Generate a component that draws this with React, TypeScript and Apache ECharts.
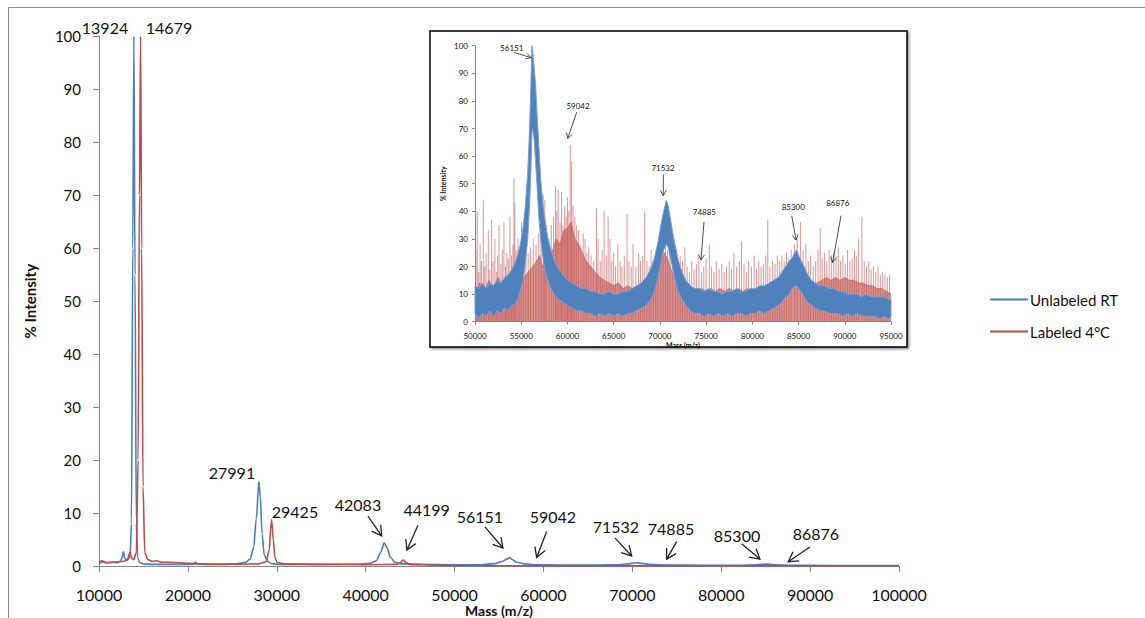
import React, { useEffect, useRef } from "react";
import * as echarts from "echarts";

// ---------- Main chart data ----------
const seriesNames = ["Unlabeled RT", "Labeled 4°C"];

const unlabeledMain: [number, number][] = [
  [10000, 0.5], [10500, 0.8], [11000, 0.6], [11500, 0.7], [12000, 0.6], [12400, 0.9], [12600, 1.6],
  [12750, 2.7], [12900, 1.4], [13100, 1.1], [13300, 1.3], [13500, 2], [13650, 8], [13800, 60],
  [13924, 100], [14050, 55], [14200, 8], [14350, 1.5], [14600, 0.6], [15000, 0.4], [16000, 0.3],
  [17000, 0.3], [18000, 0.3], [19000, 0.3], [20000, 0.3], [20600, 0.4], [20850, 0.7], [21100, 0.4],
  [22000, 0.3], [24000, 0.3], [25500, 0.4], [26500, 0.7], [27000, 1.3], [27400, 3.5], [27700, 9],
  [27991, 16], [28150, 13], [28350, 6], [28600, 2], [29000, 0.8], [29500, 0.4], [30500, 0.3],
  [33000, 0.3], [36000, 0.3], [39000, 0.35], [40500, 0.5], [41200, 1.0], [41700, 2.6], [42083, 4.4],
  [42400, 3.5], [42800, 1.6], [43300, 0.7], [44000, 0.4], [46000, 0.3], [50000, 0.25], [53000, 0.25],
  [54500, 0.45], [55300, 0.8], [55900, 1.3], [56200, 1.6], [56500, 1.2], [57000, 0.7], [57800, 0.4],
  [59000, 0.25], [62000, 0.2], [66000, 0.2], [68500, 0.25], [69500, 0.4], [70400, 0.6], [71000, 0.5],
  [72000, 0.3], [74000, 0.2], [78000, 0.15], [82000, 0.15], [84000, 0.25], [85000, 0.35], [86000, 0.25],
  [88000, 0.15], [92000, 0.1], [96000, 0.1], [100000, 0.1],
];

const labeledMain: [number, number][] = [
  [10000, 0.7], [10300, 1.0], [10800, 0.6], [11500, 0.7], [12200, 0.8], [12800, 0.9], [13200, 1.2],
  [13400, 2.2], [13500, 2.7], [13650, 1.5], [13900, 1.2], [14200, 2.5], [14400, 20], [14550, 70],
  [14679, 100], [14800, 60], [14950, 15], [15150, 2.5], [15500, 1.2], [16000, 0.9], [16500, 1.0],
  [17000, 0.7], [18000, 0.7], [19000, 0.6], [20000, 0.5], [21000, 0.4], [23000, 0.35], [26000, 0.35],
  [28000, 0.4], [28800, 0.8], [29150, 3], [29300, 7], [29425, 8.7], [29600, 5], [29800, 1.5],
  [30100, 0.6], [31000, 0.4], [35000, 0.3], [40000, 0.25], [43500, 0.3], [43900, 0.6], [44199, 1.1],
  [44500, 0.7], [45000, 0.3], [48000, 0.15], [52000, 0.05], [60000, 0.03], [70000, 0.03], [80000, 0.03],
  [90000, 0.03], [100000, 0.03],
];

// Main annotations: [label, textX, textY, arrowTailX, arrowTailY, arrowTipX, arrowTipY] (data coords; null = no arrow)
const mainPeakLabels: [string, number, number, number | null, number | null, number | null, number | null][] = [
  ["13924", 10675, 101.7, null, null, null, null],
  ["14679", 17874, 101.7, null, null, null, null],
  ["27991", 24961, 17.7, null, null, null, null],
  ["29425", 32047, 10.2, null, null, null, null],
  ["42083", 39134, 11.7, 40259, 9.4, 41800, 5.7],
  ["44199", 46862, 10.6, 45883, 7.7, 44646, 3.0],
  ["56151", 52857, 9.3, 53420, 7.4, 55444, 3.4],
  ["59042", 61069, 9.3, 60360, 6.5, 59235, 1.6],
  ["71532", 68155, 7.4, 68043, 5.3, 69921, 1.9],
  ["74885", 74352, 7.0, 74983, 4.6, 73858, 1.3],
  ["85300", 81777, 5.8, 82295, 4.2, 84353, 1.3],
  ["86876", 90652, 6.2, 89977, 3.6, 87536, 0.8],
];

// ---------- Inset data (50000–95000) ----------
// [mass, lower edge, upper edge] of the noisy blue trace
const insetUnlabeledBand: [number, number, number][] = [
  [50000, 3, 13], [50400, 1, 12], [50800, 3, 14], [51200, 2, 12], [51600, 4, 14], [52000, 2, 13],
  [52400, 4, 15], [52800, 3, 14], [53200, 5, 16], [53600, 4, 17], [54000, 6, 19], [54300, 6, 21],
  [54600, 8, 24], [54900, 11, 28], [55200, 15, 34], [55450, 21, 42], [55700, 30, 54], [55900, 42, 70],
  [56050, 55, 86], [56150, 68, 100], [56250, 70, 98], [56400, 66, 92], [56550, 58, 86], [56700, 50, 76],
  [56900, 38, 64], [57100, 30, 52], [57350, 23, 42], [57600, 18, 36], [57900, 15, 30], [58200, 12, 26],
  [58600, 10, 22], [59000, 8, 19], [59500, 7, 17], [60000, 6, 15], [60500, 5, 14], [61000, 4, 13],
  [61500, 4, 12], [62000, 3, 12], [62500, 3, 11], [63000, 2, 11], [63500, 3, 10], [64000, 2, 10],
  [64500, 3, 11], [65000, 2, 10], [65500, 3, 10], [66000, 2, 11], [66500, 3, 11], [67000, 3, 12],
  [67500, 4, 13], [68000, 5, 14], [68500, 6, 16], [69000, 8, 19], [69400, 11, 23], [69800, 16, 29],
  [70100, 21, 35], [70400, 26, 40], [70700, 28, 44], [70900, 27, 42], [71100, 24, 38], [71400, 19, 32],
  [71700, 14, 27], [72000, 11, 22], [72400, 8, 18], [72800, 6, 15], [73300, 4, 13], [73800, 3, 12],
  [74300, 3, 12], [74800, 2, 11], [75300, 3, 12], [75800, 2, 11], [76300, 3, 11], [76800, 2, 10],
  [77300, 3, 11], [77800, 2, 11], [78300, 3, 12], [78800, 3, 11], [79300, 2, 11], [79800, 3, 12],
  [80300, 3, 12], [80800, 4, 13], [81300, 3, 13], [81800, 4, 14], [82300, 5, 15], [82800, 6, 16],
  [83200, 7, 18], [83600, 9, 20], [84000, 10, 22], [84300, 12, 23], [84600, 13, 25], [84800, 13, 26],
  [85000, 12, 24], [85300, 11, 22], [85600, 9, 20], [86000, 7, 17], [86400, 6, 15], [86800, 5, 14],
  [87300, 4, 13], [87800, 4, 13], [88300, 3, 12], [88800, 3, 12], [89300, 3, 11], [89800, 2, 11],
  [90300, 3, 10], [90800, 2, 10], [91300, 3, 10], [91800, 2, 9], [92300, 2, 10], [92800, 2, 9],
  [93300, 2, 9], [93800, 1, 9], [94300, 2, 9], [94800, 1, 8], [95000, 2, 8],
];

// dense red core of the labeled trace: [mass, top]
const insetLabeledCore: [number, number][] = [
  [50000, 10], [50500, 14], [51000, 11], [51500, 15], [52000, 12], [52500, 16], [53000, 13], [53500, 17],
  [54000, 14], [54500, 18], [55000, 15], [55500, 17], [56000, 19], [56500, 21], [57000, 24], [57300, 20],
  [57700, 22], [58000, 20], [58400, 26], [58800, 30], [59200, 28], [59600, 33], [60000, 34], [60400, 36],
  [60800, 30], [61200, 28], [61600, 25], [62000, 22], [62500, 20], [63000, 18], [63500, 16], [64000, 15],
  [64500, 14], [65000, 13], [65500, 14], [66000, 12], [66500, 13], [67000, 12], [67500, 13], [68000, 14],
  [68500, 13], [69000, 15], [69500, 17], [70000, 20], [70500, 25], [70800, 23], [71200, 19], [71600, 15],
  [72000, 13], [72500, 12], [73000, 13], [73500, 12], [74000, 11], [74500, 12], [75000, 11], [75500, 12],
  [76000, 11], [76500, 12], [77000, 11], [77500, 12], [78000, 11], [78500, 12], [79000, 11], [79500, 12],
  [80000, 11], [80500, 12], [81000, 12], [81500, 13], [82000, 12], [82500, 13], [83000, 14], [83500, 15],
  [84000, 16], [84500, 18], [85000, 20], [85500, 17], [86000, 15], [86500, 14], [87000, 14], [87500, 15],
  [88000, 16], [88500, 15], [89000, 16], [89500, 15], [90000, 16], [90500, 15], [91000, 15], [91500, 14],
  [92000, 14], [92500, 13], [93000, 13], [93500, 12], [94000, 12], [94500, 11], [95000, 10],
];

// individual tall red spikes: [mass, height]
const insetLabeledSpikes: [number, number][] = [
  [50100, 26], [50250, 40], [50400, 18], [50550, 28], [50700, 22], [50900, 44], [51050, 20], [51200, 25],
  [51440, 33], [51600, 19], [51800, 37], [51950, 22], [52150, 30], [52300, 18], [52450, 24], [52600, 35],
  [52800, 21], [52950, 26], [53130, 36], [53300, 20], [53450, 25], [53600, 23], [53780, 38], [53950, 24],
  [54100, 28], [54210, 52], [54300, 43], [54450, 26], [54650, 30], [54850, 24], [55040, 36], [55250, 30],
  [55500, 28], [55750, 25], [56000, 27], [56300, 30], [56600, 28], [56900, 32], [57150, 36], [57380, 46],
  [57550, 44], [57700, 35], [58000, 30], [58250, 35], [58500, 38], [58710, 49], [58850, 40], [59000, 48],
  [59200, 36], [59360, 47], [59500, 35], [59700, 42], [59850, 38], [60000, 45], [60150, 40], [60300, 64],
  [60450, 58], [60600, 42], [60800, 38], [61000, 35], [61200, 33], [61450, 28], [61700, 32], [61900, 30],
  [62100, 25], [62300, 27], [62550, 24], [62800, 22], [63140, 41], [63300, 30], [63550, 22], [63750, 26],
  [63970, 40], [64200, 24], [64400, 38], [64600, 30], [64800, 22], [65000, 25], [65200, 20], [65450, 28],
  [65700, 22], [65900, 20], [66150, 24], [66450, 39], [66650, 22], [66900, 20], [67100, 28], [67400, 20],
  [67700, 25], [67900, 22], [68150, 24], [68360, 40], [68600, 22], [68850, 20], [69050, 26], [69300, 22],
  [69550, 25], [69800, 28], [70100, 30], [70350, 27], [70600, 31], [70850, 26], [71100, 28], [71400, 24],
  [71700, 22], [71950, 20], [72200, 24], [72450, 22], [72700, 27], [72950, 20], [73200, 18], [73450, 22],
  [73700, 19], [73950, 21], [74220, 24], [74500, 18], [74750, 20], [75000, 23], [75350, 28], [75600, 20],
  [75850, 18], [76100, 22], [76400, 19], [76700, 21], [76950, 18], [77200, 20], [77500, 22], [77750, 19],
  [78000, 25], [78300, 20], [78600, 22], [78830, 29], [79100, 21], [79350, 18], [79600, 22], [79900, 20],
  [80200, 24], [80450, 19], [80700, 22], [80950, 20], [81200, 21], [81450, 24], [81670, 37], [81900, 20],
  [82200, 22], [82450, 21], [82700, 24], [82950, 22], [83200, 24], [83450, 22], [83700, 25], [83950, 23],
  [84200, 26], [84570, 28], [84850, 30], [85200, 36], [85500, 26], [85800, 28], [86050, 22], [86300, 24],
  [86600, 20], [86850, 22], [87100, 26], [87340, 34], [87550, 23], [87800, 25], [88050, 22], [88300, 26],
  [88550, 24], [88800, 25], [89050, 24], [89300, 27], [89550, 22], [89800, 24], [90050, 21], [90300, 26],
  [90550, 22], [90800, 23], [91050, 26], [91250, 24], [91490, 30], [91850, 38], [92100, 22], [92350, 20],
  [92600, 22], [92850, 19], [93100, 20], [93350, 18], [93600, 20], [93850, 17], [94100, 18], [94350, 17],
  [94600, 16], [94850, 17],
];

// Inset annotations: [label, textX, textY, tailX, tailY, tipX, tipY]
const insetPeakLabels: [string, number, number, number, number, number, number][] = [
  ["56151", 53970, 99.2, 54250, 97.5, 56060, 95.7],
  ["59042", 61142, 78.2, 61000, 75.9, 60030, 66.4],
  ["71532", 70340, 55.7, 70370, 53.4, 70370, 45.7],
  ["74885", 74810, 39.6, 74770, 36.2, 74450, 22.4],
  ["85300", 84430, 41.7, 84260, 38.4, 84730, 29.6],
  ["86876", 89240, 42.9, 89590, 38.4, 88690, 21.5],
];

const BLUE = "#4a7ebb";
const RED = "#be4b48";
const FONT = "Lato, 'Open Sans', sans-serif";

function arrow(tail: number[], tip: number[], head: number, width: number, color: string) {
  const dx = tip[0] - tail[0];
  const dy = tip[1] - tail[1];
  const len = Math.sqrt(dx * dx + dy * dy) || 1;
  const ux = dx / len, uy = dy / len;
  const ang = Math.PI / 6;
  const cos = Math.cos(ang), sin = Math.sin(ang);
  const a = [tip[0] - head * (ux * cos - uy * sin), tip[1] - head * (uy * cos + ux * sin)];
  const b = [tip[0] - head * (ux * cos + uy * sin), tip[1] - head * (uy * cos - ux * sin)];
  return [
    { type: "polyline", z: 20, shape: { points: [tail, tip] }, style: { stroke: color, lineWidth: width, fill: null } },
    { type: "polyline", z: 20, shape: { points: [a, tip, b] }, style: { stroke: color, lineWidth: width, fill: null } },
  ];
}

const plain = (v: number) => String(v);

export default function App() {
  const ref = useRef<HTMLDivElement>(null);

  useEffect(() => {
    if (!ref.current) return;
    const chart = echarts.init(ref.current, undefined, { renderer: "svg" });

    const axisCommon = {
      axisLine: { show: true, lineStyle: { color: "#868686", width: 1 } },
      splitLine: { show: false },
    };

    chart.setOption({
      animation: false,
      backgroundColor: "#ffffff",
      textStyle: { fontFamily: FONT },
      legend: {
        data: seriesNames,
        orient: "vertical",
        left: 985,
        top: 287,
        icon: "rect",
        itemWidth: 38,
        itemHeight: 2,
        itemGap: 17,
        selectedMode: false,
        textStyle: { fontSize: 15, color: "#111", fontFamily: FONT, padding: [0, 0, 0, -3] },
      },
      grid: [
        { left: 99, right: 246, top: 36.4, bottom: 52, containLabel: false, outerBoundsMode: "none" },
        { left: 475, right: 254, top: 45.7, bottom: 296.3, containLabel: false, outerBoundsMode: "none" },
      ],
      xAxis: [
        {
          ...axisCommon, type: "value", gridIndex: 0, min: 10000, max: 100000, interval: 10000,
          axisTick: { show: true, inside: false, length: 6, lineStyle: { color: "#868686" } },
          axisLabel: { fontSize: 16, lineHeight: 16, color: "#111", margin: 20, fontFamily: FONT, formatter: plain },
          name: "Mass (m/z)", nameLocation: "middle", nameGap: 44, nameMoveOverlap: false,
          nameTextStyle: { fontWeight: "bold", fontSize: 14, color: "#111", fontFamily: FONT, verticalAlign: "middle", lineHeight: 14 },
        },
        {
          ...axisCommon, type: "value", gridIndex: 1, min: 50000, max: 95000, interval: 5000, z: 10,
          axisTick: { show: true, inside: false, length: 3, lineStyle: { color: "#868686" } },
          axisLabel: { fontSize: 8, color: "#111", margin: 10, fontFamily: FONT, formatter: plain },
          name: "Mass (m/z)", nameLocation: "middle", nameGap: 20, nameMoveOverlap: false,
          nameTextStyle: { fontWeight: "bold", fontSize: 7, color: "#111", fontFamily: FONT },
        },
      ],
      yAxis: [
        {
          ...axisCommon, type: "value", gridIndex: 0, min: 0, max: 100, interval: 10,
          axisTick: { show: true, inside: false, length: 6, lineStyle: { color: "#868686" } },
          axisLabel: { fontSize: 15, color: "#111", margin: 18, fontFamily: FONT },
          name: "% Intensity", nameLocation: "middle", nameGap: 62, nameMoveOverlap: false,
          nameTextStyle: { fontWeight: "bold", fontSize: 15, color: "#111", fontFamily: FONT },
        },
        {
          ...axisCommon, type: "value", gridIndex: 1, min: 0, max: 100, interval: 10, z: 10,
          axisTick: { show: true, inside: false, length: 3, lineStyle: { color: "#868686" } },
          axisLabel: { fontSize: 8, color: "#111", margin: 7, fontFamily: FONT },
          name: "% Intensity", nameLocation: "middle", nameGap: 29, nameMoveOverlap: false,
          nameTextStyle: { fontWeight: "bold", fontSize: 7, color: "#111", fontFamily: FONT },
        },
      ],
      series: [
        {
          name: seriesNames[0], type: "line", xAxisIndex: 0, yAxisIndex: 0, data: unlabeledMain,
          symbol: "none", smooth: 0.3, smoothMonotone: "x", z: 3,
          lineStyle: { color: BLUE, width: 1.6 }, itemStyle: { color: BLUE },
        },
        {
          name: seriesNames[1], type: "line", xAxisIndex: 0, yAxisIndex: 0, data: labeledMain,
          symbol: "none", smooth: 0.3, smoothMonotone: "x", z: 4,
          lineStyle: { color: RED, width: 1.6 }, itemStyle: { color: RED },
        },
        {
          name: seriesNames[1], type: "bar", xAxisIndex: 1, yAxisIndex: 1, data: insetLabeledSpikes,
          barWidth: 1, z: 5, itemStyle: { color: "rgba(192,80,77,0.6)" },
        },
        {
          name: seriesNames[1], type: "line", xAxisIndex: 1, yAxisIndex: 1, data: insetLabeledCore,
          symbol: "none", z: 6, lineStyle: { color: "rgba(190,75,72,0.7)", width: 0.8 },
          areaStyle: { color: "#c0504d", opacity: 0.62 }, itemStyle: { color: RED },
        },
        {
          name: seriesNames[0], type: "custom", xAxisIndex: 1, yAxisIndex: 1, z: 7,
          data: insetUnlabeledBand,
          encode: { x: 0, y: [1, 2] },
          itemStyle: { color: BLUE },
          renderItem: (params: any, api: any) => {
            if (params.dataIndex !== 0) return null;
            const upper = insetUnlabeledBand.map((d) => api.coord([d[0], d[2]]));
            const lower = insetUnlabeledBand.map((d) => api.coord([d[0], d[1]])).reverse();
            return {
              type: "polygon",
              shape: { points: upper.concat(lower) },
              style: { fill: "#4f81bd", stroke: "#7aa0d2", lineWidth: 1 },
            };
          },
        },
      ],
    });

    const graphics: any[] = [];
    graphics.push({ type: "line", z: 0, shape: { x1: 8.5, y1: 7.5, x2: 1145, y2: 7.5 }, style: { stroke: "#8c8c8c", lineWidth: 1 } });
    graphics.push({ type: "line", z: 0, shape: { x1: 8.5, y1: 7.5, x2: 8.5, y2: 618 }, style: { stroke: "#8c8c8c", lineWidth: 1 } });
    graphics.push({
      type: "rect", z: 1,
      shape: { x: 430, y: 31, width: 477, height: 316 },
      style: { fill: "#fff", stroke: "#000", lineWidth: 1.5, shadowBlur: 2, shadowOffsetX: 1.5, shadowOffsetY: 1.5, shadowColor: "rgba(0,0,0,0.45)" },
    });

    mainPeakLabels.forEach(([label, tx, ty, ax, ay, bx, by]) => {
      const p = chart.convertToPixel({ gridIndex: 0 }, [tx, ty]) as number[];
      graphics.push({
        type: "text", z: 20, x: p[0], y: p[1],
        style: { text: label, fill: "#111", font: `16px ${FONT}`, align: "center", verticalAlign: "middle" },
      });
      if (ax !== null && ay !== null && bx !== null && by !== null) {
        const t = chart.convertToPixel({ gridIndex: 0 }, [ax, ay]) as number[];
        const h = chart.convertToPixel({ gridIndex: 0 }, [bx, by]) as number[];
        graphics.push(...arrow(t, h, 11, 1.3, "#222"));
      }
    });

    insetPeakLabels.forEach(([label, tx, ty, ax, ay, bx, by]) => {
      const p = chart.convertToPixel({ gridIndex: 1 }, [tx, ty]) as number[];
      graphics.push({
        type: "text", z: 20, x: p[0], y: p[1],
        style: { text: label, fill: "#111", font: `8px ${FONT}`, align: "center", verticalAlign: "middle" },
      });
      const t = chart.convertToPixel({ gridIndex: 1 }, [ax, ay]) as number[];
      const h = chart.convertToPixel({ gridIndex: 1 }, [bx, by]) as number[];
      graphics.push(...arrow(t, h, 6, 0.8, "#222"));
    });

    chart.setOption({ graphic: { elements: graphics } });

    return () => chart.dispose();
  }, []);

  return <div ref={ref} style={{ position: "absolute", left: 0, top: 0, width: 1145, height: 618 }} />;
}
